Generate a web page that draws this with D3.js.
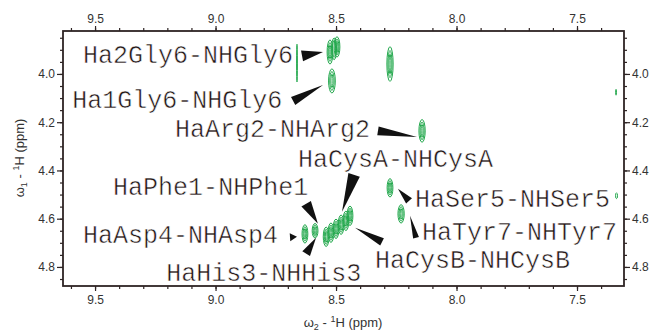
<!DOCTYPE html>
<html>
<head>
<meta charset="utf-8">
<script src="https://cdn.jsdelivr.net/npm/d3@7"></script>
<style>
  body { margin: 0; background: #fff; }
  svg { display: block; }
</style>
</head>
<body>
<svg id="chart" width="651" height="333"></svg>
<script>
// peak centres (ppm) : NH on w2, Ha on w1
const peakNH = [8.525, 8.508, 8.496, 8.517, 8.276, 8.143, 8.276, 8.230,
                8.629, 8.587, 8.541, 8.521, 8.500, 8.479, 8.459, 8.442,
                8.662, 7.338, 7.336];
const peakHA = [3.909, 3.896, 3.888, 4.029, 3.959, 4.236, 4.472, 4.580,
                4.663, 4.650, 4.675, 4.658, 4.642, 4.625, 4.609, 4.588,
                3.955, 4.076, 4.505];
// half widths (ppm)
const peakRX = [0.012, 0.010, 0.012, 0.014, 0.013, 0.013, 0.012, 0.013,
                0.012, 0.012, 0.012, 0.012, 0.012, 0.012, 0.012, 0.012,
                0.001, 0.001, 0.004];
const peakRY = [0.050, 0.045, 0.042, 0.050, 0.072, 0.047, 0.038, 0.038,
                0.038, 0.030, 0.040, 0.040, 0.040, 0.040, 0.040, 0.040,
                0.078, 0.012, 0.012];
const peakLevels = [3, 2, 3, 3, 3, 3, 3, 3, 3, 3, 3, 3, 3, 3, 3, 3, 1, 1, 1];

const labelTexts = ["Ha2Gly6-NHGly6", "Ha1Gly6-NHGly6", "HaArg2-NHArg2",
  "HaCysA-NHCysA", "HaPhe1-NHPhe1", "HaAsp4-NHAsp4", "HaHis3-NHHis3",
  "HaSer5-NHSer5", "HaTyr7-NHTyr7", "HaCysB-NHCysB"];

const xTicks = [9.5, 9.0, 8.5, 8.0, 7.5];
const yTicks = [4.0, 4.2, 4.4, 4.6, 4.8];

// annotation layout (ppm): text start/baseline, wedge base, wedge tip, base width px
const labelX = [9.550, 9.595, 9.168, 8.658, 9.425, 9.550, 9.205, 8.172, 8.143, 8.338];
const labelY = [3.954, 4.141, 4.261, 4.385, 4.501, 4.700, 4.858, 4.551, 4.687, 4.803];
const wedgeBase = [[8.641, 3.925], [8.678, 4.112], [8.326, 4.236], [8.425, 4.418],
  [8.624, 4.538], [8.691, 4.677], [8.624, 4.745], [8.309, 4.696], [8.197, 4.526], [8.168, 4.679]];
const wedgeTip = [[8.554, 3.909], [8.554, 4.046], [8.164, 4.261], [8.475, 4.571],
  [8.575, 4.621], [8.662, 4.675], [8.583, 4.679], [8.421, 4.638], [8.243, 4.476], [8.193, 4.588]];
const wedgeW = [11, 9, 9, 12, 11, 8, 9, 8, 8, 6];

const svg = d3.select("#chart");
const mLeft = 63, mRight = 624, mTop = 31, mBottom = 286;

const x = d3.scaleLinear().domain([9.633, 7.305]).range([mLeft, mRight]);
const y = d3.scaleLinear().domain([3.822, 4.879]).range([mTop, mBottom]);

const axisCol = "#2e2424";
const fmt = d3.format(".1f");

function styleAxis(g) {
  g.select(".domain").remove();
  g.selectAll("line").attr("stroke", axisCol).attr("stroke-width", 1.2);
  g.selectAll("text").attr("fill", "#333").style("font-family", "Liberation Sans, Arial, sans-serif").style("font-size", "12px");
}

const xMinor = d3.range(7.4, 9.65, 0.1);
const yMinor = d3.range(3.85, 4.88, 0.05);

// minor ticks
svg.append("g").attr("transform", `translate(0,${mTop})`)
  .call(d3.axisTop(x).tickValues(xMinor).tickSize(3).tickFormat("")).call(styleAxis);
svg.append("g").attr("transform", `translate(0,${mBottom})`)
  .call(d3.axisBottom(x).tickValues(xMinor).tickSize(3).tickFormat("")).call(styleAxis);
svg.append("g").attr("transform", `translate(${mLeft},0)`)
  .call(d3.axisLeft(y).tickValues(yMinor).tickSize(3).tickFormat("")).call(styleAxis);
svg.append("g").attr("transform", `translate(${mRight},0)`)
  .call(d3.axisRight(y).tickValues(yMinor).tickSize(3).tickFormat("")).call(styleAxis);

// major ticks
svg.append("g").attr("transform", `translate(0,${mTop})`)
  .call(d3.axisTop(x).tickValues(xTicks).tickSize(5).tickPadding(3).tickFormat(fmt)).call(styleAxis);
svg.append("g").attr("transform", `translate(0,${mBottom})`)
  .call(d3.axisBottom(x).tickValues(xTicks).tickSize(5).tickPadding(4).tickFormat(fmt)).call(styleAxis);
svg.append("g").attr("transform", `translate(${mLeft},0)`)
  .call(d3.axisLeft(y).tickValues(yTicks).tickSize(6).tickPadding(2).tickFormat(fmt)).call(styleAxis);
svg.append("g").attr("transform", `translate(${mRight},0)`)
  .call(d3.axisRight(y).tickValues(yTicks).tickSize(6).tickPadding(2).tickFormat(fmt)).call(styleAxis);

// frame
svg.append("rect")
  .attr("x", mLeft).attr("y", mTop)
  .attr("width", mRight - mLeft).attr("height", mBottom - mTop)
  .attr("fill", "none").attr("stroke", axisCol).attr("stroke-width", 1.8);

// peaks as nested contour ellipses
const peaks = svg.append("g");
peakNH.forEach((nh, i) => {
  const cx = x(nh), cy = y(peakHA[i]);
  const rx = Math.abs(x(nh + peakRX[i]) - cx);
  const ry = Math.abs(y(peakHA[i] + peakRY[i]) - cy);
  for (let k = 0; k < peakLevels[i]; k++) {
    const f = 1 - k * 0.35;
    peaks.append("ellipse")
      .attr("cx", cx).attr("cy", cy)
      .attr("rx", Math.max(rx * f, 0.4)).attr("ry", ry * (1 - k * 0.22))
      .attr("fill", "none")
      .attr("stroke", "#22a84c")
      .attr("stroke-width", 1);
  }
});

// wedges
const wedges = svg.append("g");
wedgeTip.forEach((t, i) => {
  const bx = x(wedgeBase[i][0]), by = y(wedgeBase[i][1]);
  const tx = x(t[0]), ty = y(t[1]);
  const dx = tx - bx, dy = ty - by;
  const len = Math.hypot(dx, dy);
  const nx = -dy / len * wedgeW[i] / 2, ny = dx / len * wedgeW[i] / 2;
  wedges.append("path")
    .attr("d", d3.line()([[bx + nx, by + ny], [bx - nx, by - ny], [tx, ty]]) + "Z")
    .attr("fill", "#111");
});

// labels (slightly thinned strokes, like a typewriter face)
svg.append("g").selectAll("text")
  .data(labelTexts)
  .join("text")
  .attr("x", (d, i) => x(labelX[i]))
  .attr("y", (d, i) => y(labelY[i]))
  .attr("fill", "#231616")
  .attr("stroke", "#fff")
  .attr("stroke-width", 0.5)
  .style("font-family", "Liberation Mono, Courier New, monospace")
  .style("font-size", "25px")
  .text(d => d);

// axis titles
const titleFont = "Liberation Sans, Arial, sans-serif";
const xt = svg.append("text")
  .attr("x", 343).attr("y", 327)
  .attr("text-anchor", "middle")
  .attr("fill", "#333")
  .style("font-family", titleFont).style("font-size", "13px");
xt.append("tspan").text("ω");
xt.append("tspan").attr("dy", 3).style("font-size", "9px").text("2");
xt.append("tspan").attr("dy", -3).text(" - ");
xt.append("tspan").attr("dy", -5).style("font-size", "9px").text("1");
xt.append("tspan").attr("dy", 5).text("H  (ppm)");

const yt = svg.append("text")
  .attr("transform", "translate(24,158) rotate(-90)")
  .attr("text-anchor", "middle")
  .attr("fill", "#333")
  .style("font-family", titleFont).style("font-size", "13px");
yt.append("tspan").text("ω");
yt.append("tspan").attr("dy", 3).style("font-size", "9px").text("1");
yt.append("tspan").attr("dy", -3).text(" - ");
yt.append("tspan").attr("dy", -5).style("font-size", "9px").text("1");
yt.append("tspan").attr("dy", 5).text("H  (ppm)");
</script>
</body>
</html>
